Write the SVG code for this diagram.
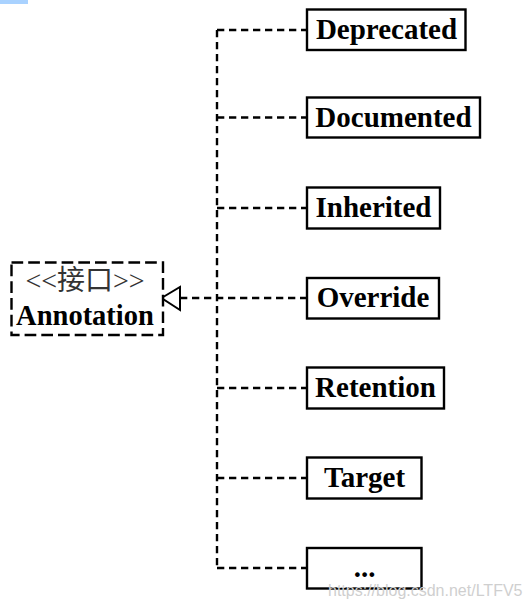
<svg xmlns="http://www.w3.org/2000/svg" width="531" height="605" viewBox="0 0 531 605">
<style>
.box{fill:#fff;stroke:#000;stroke-width:2.4}
.lbl{font-family:"Liberation Serif","Times New Roman",serif;font-weight:bold;font-size:29px;fill:#000;text-anchor:middle}
.conn{fill:none;stroke:#000;stroke-width:2.4;stroke-dasharray:7.3 4.7}
</style>
<rect x="0" y="0" width="28" height="4" fill="#a9d2ff"/>
<g id="connectors">
<path class="conn" d="M217 30 V568"/>
<path class="conn" d="M217 30 H307 M217 117.5 H307 M217 208 H307 M217 388 H307 M217 478 H307 M217 568 H307"/>
<path class="conn" d="M180 298 H307"/>
<polygon points="161.5,298 180,287 180,310" fill="#fff" stroke="#000" stroke-width="2"/>
</g>
<g id="annotation">
<rect x="11.5" y="262.5" width="151.5" height="72.5" fill="#fff" stroke="#000" stroke-width="2.4" stroke-dasharray="11.7 5"/>
<text x="85" y="290" font-family="'Liberation Serif','Noto Sans CJK SC',serif" font-size="28" fill="#333" text-anchor="middle">&lt;&lt;接口&gt;&gt;</text>
<text x="85" y="325" class="lbl" style="font-size:28.5px">Annotation</text>
</g>
<g id="deprecated"><rect class="box" x="307" y="9.5" width="158.5" height="40.5"/><text class="lbl" x="386.5" y="38.5">Deprecated</text></g>
<g id="documented"><rect class="box" x="307" y="97.5" width="173" height="40"/><text class="lbl" x="393.5" y="126.5">Documented</text></g>
<g id="inherited"><rect class="box" x="307" y="187.5" width="133" height="41"/><text class="lbl" x="373.5" y="216.5">Inherited</text></g>
<g id="override"><rect class="box" x="307" y="278" width="132" height="40.5"/><text class="lbl" x="373" y="306.5">Override</text></g>
<g id="retention"><rect class="box" x="307" y="367.5" width="137" height="41"/><text class="lbl" x="375.5" y="396.5">Retention</text></g>
<g id="target"><rect class="box" x="307" y="457.5" width="114.5" height="41"/><text class="lbl" x="364.5" y="486.5">Target</text></g>
<g id="more"><rect class="box" x="307" y="548" width="114.5" height="40.5"/><text class="lbl" x="364.5" y="577">...</text></g>
<text x="328" y="596" font-family="'Liberation Sans',Arial,sans-serif" font-size="16" fill="#cfcfcf">https://blog.csdn.net/LTFV5</text>
</svg>
